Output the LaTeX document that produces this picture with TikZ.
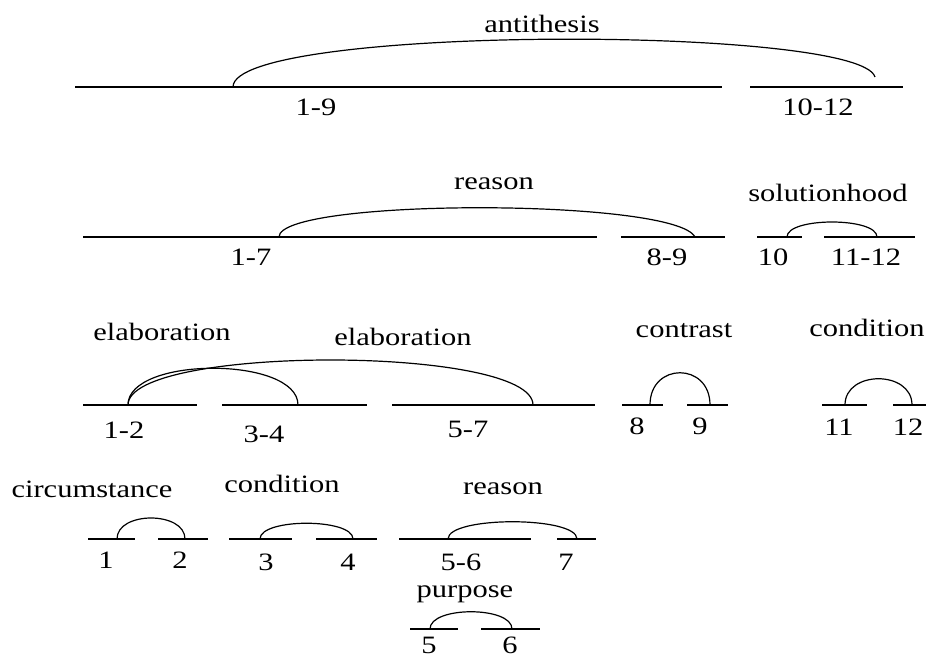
\documentclass[tikz,border=0pt]{standalone}
\usepackage{fontspec}
\setmainfont{Liberation Serif}[FakeStretch=1.22]
\usepackage{tikz}

\begin{document}
\begin{tikzpicture}[
      x=1pt, y=-1pt,
      seg/.style={line width=1.6pt},
      rel/.style={line width=1.2pt},
      lbl/.style={inner sep=0pt, anchor=base, font=\fontsize{25}{30}\selectfont},
    ]
    \useasboundingbox (0,0) rectangle (930,660);

    % Level 1: 1-9 vs 10-12
    \coordinate (s19l) at (75,87);   \coordinate (s19r) at (722,87);
    \coordinate (s1012l) at (750,87); \coordinate (s1012r) at (903,87);
    \draw [seg] (s19l) -- (s19r);
    \draw [seg] (s1012l) -- (s1012r);
    \coordinate (anti1) at (233,87);
    \coordinate (anti2) at (875,77);
    \draw [rel] (anti1) .. controls +(0,-62) and +(-15,-52) .. (anti2);
    \node (antithesis) [lbl] at (542,33) {antithesis};
    \node (n19) [lbl] at (316,116) {1-9};
    \node (n1012) [lbl] at (818,116) {10-12};

    % Level 2
    \coordinate (s17l) at (83,237);   \coordinate (s17r) at (597,237);
    \coordinate (s89l) at (621,237);  \coordinate (s89r) at (725,237);
    \coordinate (s10l) at (757,237);  \coordinate (s10r) at (802,237);
    \coordinate (s1112l) at (824,237); \coordinate (s1112r) at (915,237);
    \draw [seg] (s17l) -- (s17r);
    \draw [seg] (s89l) -- (s89r);
    \draw [seg] (s10l) -- (s10r);
    \draw [seg] (s1112l) -- (s1112r);
    \coordinate (rea1) at (279,237);  \coordinate (rea2) at (695,237);
    \coordinate (sol1) at (787,237);  \coordinate (sol2) at (877,237);
    \draw [rel] (rea1) .. controls +(0,-39) and +(-20,-39) .. (rea2);
    \draw [rel] (sol1) .. controls +(0,-20) and +(0,-20) .. (sol2);
    \node (reason) [lbl] at (494,190) {reason};
    \node (solutionhood) [lbl] at (828,202) {solutionhood};
    \node (n17) [lbl] at (251,266) {1-7};
    \node (n89) [lbl] at (667,266) {8-9};
    \node (n10) [lbl] at (773,266) {10};
    \node (n1112) [lbl] at (866,266) {11-12};

    % Level 3
    \coordinate (s12l) at (83,405);   \coordinate (s12r) at (197,405);
    \coordinate (s34l) at (222,405);  \coordinate (s34r) at (367,405);
    \coordinate (s57l) at (392,405);  \coordinate (s57r) at (595,405);
    \coordinate (s8l) at (622,405);   \coordinate (s8r) at (663,405);
    \coordinate (s9l) at (687,405);   \coordinate (s9r) at (728,405);
    \coordinate (s11l) at (822,405);  \coordinate (s11r) at (867,405);
    \coordinate (s12bl) at (893,405); \coordinate (s12br) at (926,405);
    \draw [seg] (s12l) -- (s12r);
    \draw [seg] (s34l) -- (s34r);
    \draw [seg] (s57l) -- (s57r);
    \draw [seg] (s8l) -- (s8r);
    \draw [seg] (s9l) -- (s9r);
    \draw [seg] (s11l) -- (s11r);
    \draw [seg] (s12bl) -- (s12br);
    \coordinate (ela0) at (128,405);
    \coordinate (ela1) at (298,405);  \coordinate (ela2) at (533,405);
    \coordinate (con1) at (650,405);  \coordinate (con2) at (710,405);
    \coordinate (cnd1) at (845,405);  \coordinate (cnd2) at (912,405);
    \draw [rel] (ela0) .. controls +(0,-49) and +(0,-49) .. (ela1);
    \draw [rel] (ela0) .. controls +(0,-60) and +(0,-60) .. (ela2);
    \draw [rel] (con1) .. controls +(0,-43) and +(0,-43) .. (con2);
    \draw [rel] (cnd1) .. controls +(0,-35) and +(0,-35) .. (cnd2);
    \node (elab1) [lbl] at (162,341) {elaboration};
    \node (elab2) [lbl] at (403,346) {elaboration};
    \node (contrast) [lbl] at (684,338) {contrast};
    \node (condition) [lbl] at (867,337) {condition};
    \node (n12) [lbl] at (124,439) {1-2};
    \node (n34) [lbl] at (264,443) {3-4};
    \node (n57) [lbl] at (468,438) {5-7};
    \node (n8) [lbl] at (637,435) {8};
    \node (n9) [lbl] at (700,435) {9};
    \node (n11) [lbl] at (839,436) {11};
    \node (n12b) [lbl] at (908,436) {12};

    % Level 4
    \coordinate (s1l) at (88,539);    \coordinate (s1r) at (135,539);
    \coordinate (s2l) at (158,539);   \coordinate (s2r) at (208,539);
    \coordinate (s3l) at (229,539);   \coordinate (s3r) at (292,539);
    \coordinate (s4l) at (316,539);   \coordinate (s4r) at (377,539);
    \coordinate (s56l) at (399,539);  \coordinate (s56r) at (531,539);
    \coordinate (s7l) at (557,539);   \coordinate (s7r) at (596,539);
    \draw [seg] (s1l) -- (s1r);
    \draw [seg] (s2l) -- (s2r);
    \draw [seg] (s3l) -- (s3r);
    \draw [seg] (s4l) -- (s4r);
    \draw [seg] (s56l) -- (s56r);
    \draw [seg] (s7l) -- (s7r);
    \coordinate (cir1) at (117,539);  \coordinate (cir2) at (185,539);
    \coordinate (cnd3) at (260,539);  \coordinate (cnd4) at (353,539);
    \coordinate (rea3) at (448,539);  \coordinate (rea4) at (577,539);
    \draw [rel] (cir1) .. controls +(0,-28) and +(0,-28) .. (cir2);
    \draw [rel] (cnd3) .. controls +(0,-21) and +(0,-21) .. (cnd4);
    \draw [rel] (rea3) .. controls +(0,-23) and +(0,-23) .. (rea4);
    \node (circumstance) [lbl] at (92,497) {circumstance};
    \node (condition2) [lbl] at (282,493) {condition};
    \node (reason2) [lbl] at (503,495) {reason};
    \node (n1) [lbl] at (106,568) {1};
    \node (n2) [lbl] at (180,568) {2};
    \node (n3) [lbl] at (266,570) {3};
    \node (n4) [lbl] at (348,570) {4};
    \node (n56) [lbl] at (461,570) {5-6};
    \node (n7) [lbl] at (566,570) {7};

    % Level 5: 5 vs 6
    \coordinate (s5l) at (410,629);   \coordinate (s5r) at (458,629);
    \coordinate (s6l) at (481,629);   \coordinate (s6r) at (540,629);
    \draw [seg] (s5l) -- (s5r);
    \draw [seg] (s6l) -- (s6r);
    \coordinate (pur1) at (430,629);  \coordinate (pur2) at (512,629);
    \draw [rel] (pur1) .. controls +(0,-23) and +(0,-23) .. (pur2);
    \node (purpose) [lbl] at (465,597) {purpose};
    \node (n5) [lbl] at (429,653) {5};
    \node (n6) [lbl] at (510,653) {6};
  \end{tikzpicture}
\end{document}
